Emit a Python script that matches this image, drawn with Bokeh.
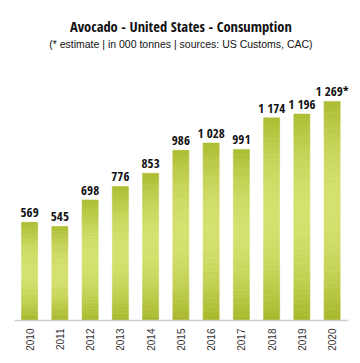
import math
from bokeh.plotting import figure
from bokeh.models import ColumnDataSource, Range1d, FixedTicker
from bokeh.core.properties import value
from bokeh.embed import file_html
from bokeh.resources import INLINE

years = [2010, 2011, 2012, 2013, 2014, 2015, 2016, 2017, 2018, 2019, 2020]
consumption = [569, 545, 698, 776, 853, 986, 1028, 991, 1174, 1196, 1269]
value_labels = ["569", "545", "698", "776", "853", "986", "1 028", "991", "1 174", "1 196", "1 269*"]
title_text = "Avocado - United States - Consumption"
subtitle_text = "(* estimate | in 000 tonnes | sources: US Customs, CAC)"

BOLD_FONT = "Open Sans Condensed"
REG_FONT = "Liberation Sans"

dark = (167, 183, 42)
light = (212, 225, 110)

def mix(t):
    f = max(0.0, 1.0 - abs(t - 0.52) / 0.52)
    f = math.sin(f * math.pi / 2)
    c = [round(dark[k] + (light[k] - dark[k]) * f) for k in range(3)]
    return "#%02x%02x%02x" % tuple(c)

N = 40
xs, bots, tops, cols = [], [], [], []
for yr, v in zip(years, consumption):
    for j in range(N):
        xs.append(yr)
        bots.append(v * j / N)
        tops.append(v * (j + 1) / N)
        cols.append(mix((j + 0.5) / N))
strips = ColumnDataSource(dict(x=xs, bottom=bots, top=tops, color=cols))

frame_w, frame_h = 334, 320
step_px = 30.25
px_per_unit = 0.1726
x0 = years[0] - 0.5
x1 = x0 + frame_w / step_px
y1 = frame_h / px_per_unit

p = figure(title=None, frame_width=frame_w, frame_height=frame_h,
           output_backend="svg", toolbar_location=None,
           x_range=Range1d(x0, x1), y_range=Range1d(0, y1),
           min_border_left=14, min_border_right=12, min_border_top=0, min_border_bottom=43)
p.vbar(x="x", bottom="bottom", top="top", width=0.53, fill_color="color",
       line_color="color", line_width=0.6, source=strips)

src = ColumnDataSource(dict(x=years, y=consumption, t=value_labels))
p.text(x="x", y="y", text="t", source=src, text_align="center", text_baseline="alphabetic",
       y_offset=-10, text_font=value(BOLD_FONT), text_font_style="bold", text_font_size="13px",
       text_color="#111111")

mid = (years[0] + years[-1]) / 2
p.text(x=[mid], y=[y1 - 26 / px_per_unit], text=[title_text], text_align="center", text_baseline="alphabetic",
       text_font=value(BOLD_FONT), text_font_style="bold", text_font_size="14.5px", text_color="#111111")
p.text(x=[mid], y=[y1 - 43 / px_per_unit], text=[subtitle_text], text_align="center", text_baseline="alphabetic",
       text_font=value(REG_FONT), text_font_size="10.5px", text_color="#111111")

p.xaxis.ticker = FixedTicker(ticks=years)
p.xaxis.major_label_orientation = math.pi / 2
p.xaxis.major_tick_line_color = None
p.xaxis.major_tick_out = 0
p.xaxis.major_tick_in = 0
p.xaxis.minor_tick_line_color = None
p.xaxis.minor_tick_out = 0
p.xaxis.axis_label_standoff = 0
p.xaxis.axis_line_color = "#cfcfcf"
p.xaxis.axis_line_width = 1.5
p.xaxis.major_label_standoff = 8
p.xaxis.major_label_text_font = REG_FONT
p.xaxis.major_label_text_font_size = "10px"
p.xaxis.major_label_text_color = "#333333"
p.yaxis.visible = False
p.xgrid.visible = False
p.ygrid.visible = False
p.outline_line_color = None

open("out.html", "w").write(file_html(p, INLINE))
